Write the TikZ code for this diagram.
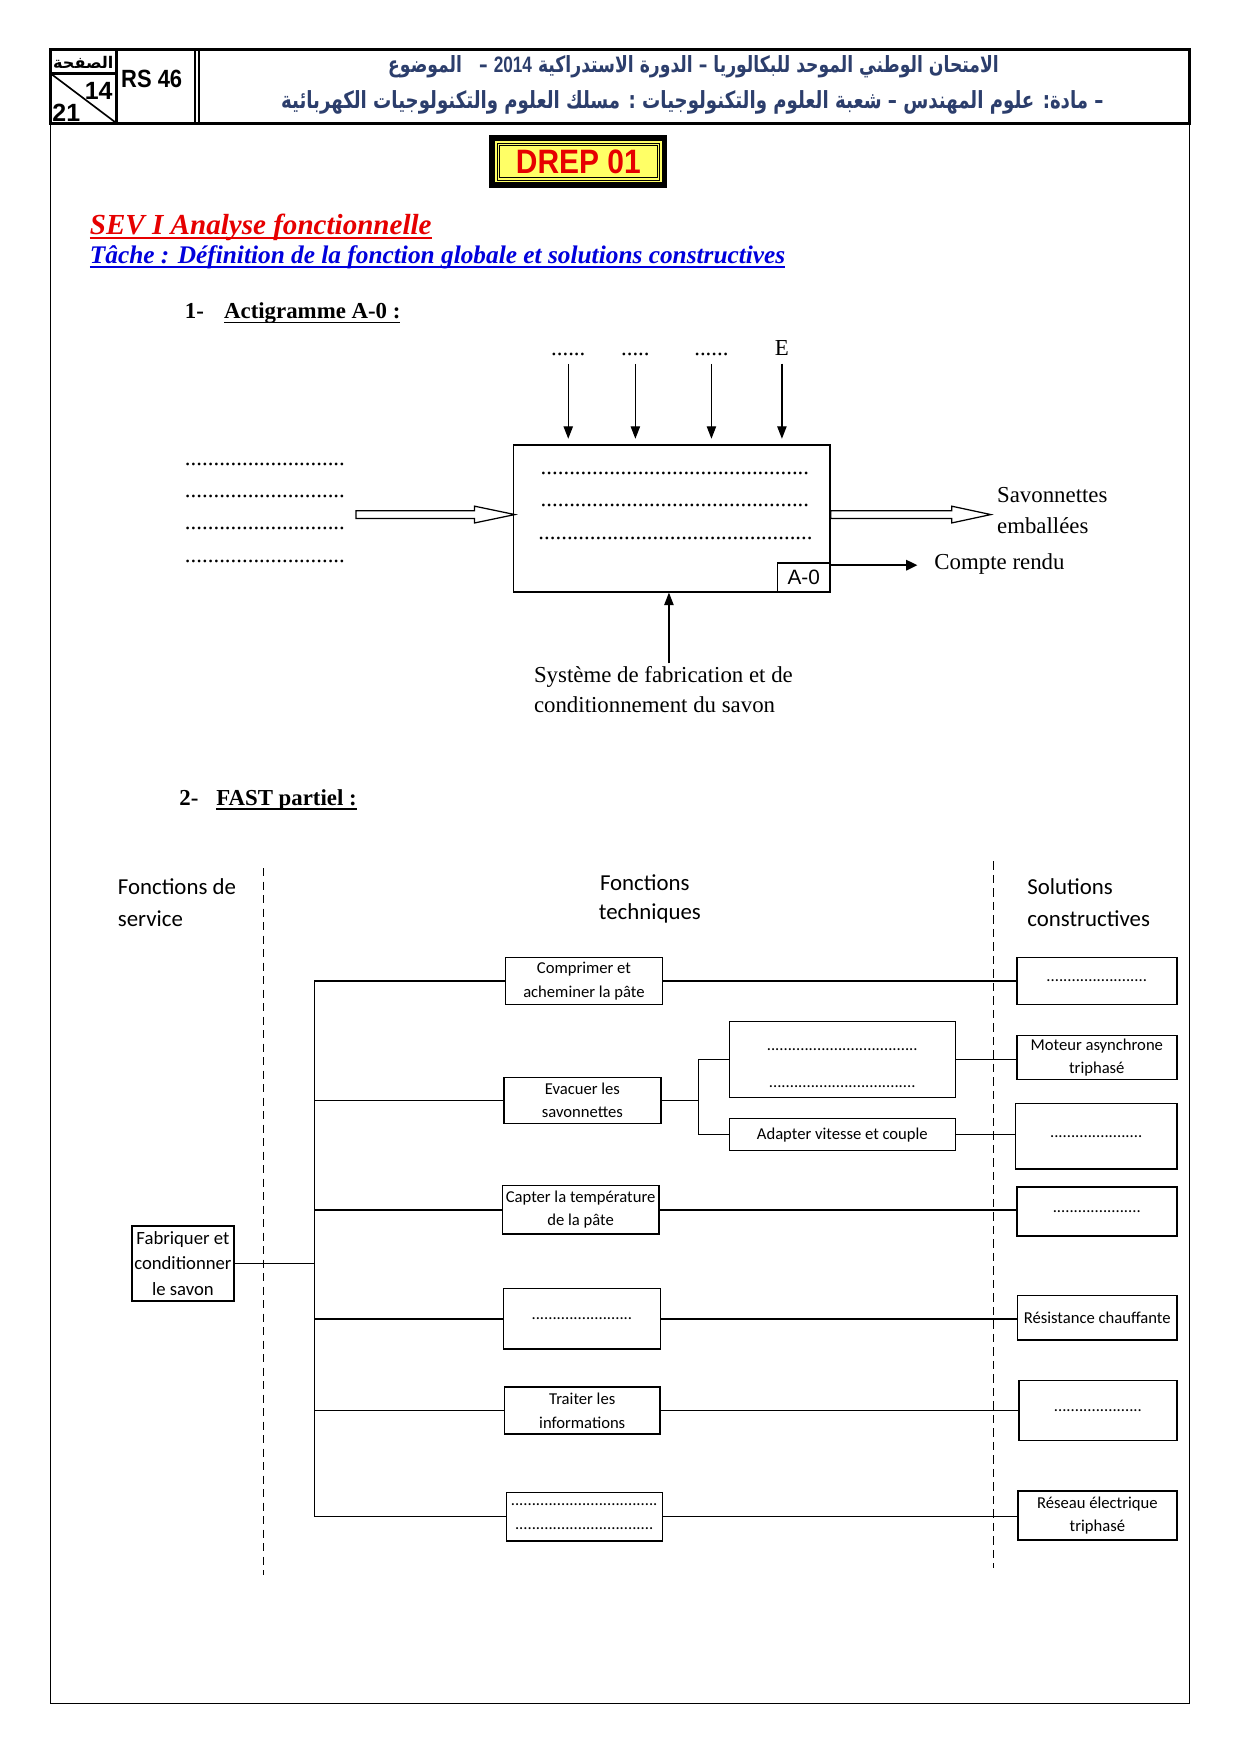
\documentclass[tikz,border=0pt]{standalone}
\usepackage{fontspec}
\setmainfont{Liberation Serif}
\setsansfont{Liberation Sans}
\newfontfamily\calib{Carlito}
\newfontfamily\arabicfont[Script=Arabic]{DejaVu Sans}
\TeXXeTstate=1
\usetikzlibrary{arrows.meta,calc}
\definecolor{arab}{RGB}{44,62,108}
\definecolor{drepyellow}{RGB}{255,255,102}
\definecolor{titred}{RGB}{230,0,0}
\definecolor{titblue}{RGB}{0,0,220}
\newcommand\mydots[1]{\ifnum#1>0 .\expandafter\mydots\expandafter{\the\numexpr#1-1\relax}\fi}
\newcommand\myul[3]{\setbox0\hbox{#3}\rlap{\rule[-#1]{\wd0}{#2}}\box0}
% box from (x1,y1) to (x2,y2): \bx[opts]{name}{x1}{y1}{x2}{y2}{text}
\newcommand\bx[7][]{\node[fbox,#1,minimum width={(#5-#3)*0.1893mm},minimum height={(#6-#4)*0.1893mm}] (#2) at ({(#3+#5)/2},{(#4+#6)/2}) {#7};}
\tikzset{
  fbox/.style={draw, line width=0.7pt, inner sep=0pt, align=center, font=\calib\fontsize{8}{11.3}\selectfont},
  serif/.style={inner sep=0pt, font=\fontsize{11}{13}\selectfont},
  toplab/.style={inner sep=3.6pt, font=\fontsize{11}{13}\selectfont},
  arr/.style={line width=0.6pt, -{Triangle[length=6pt,width=4.5pt]}},
  crarr/.style={line width=1.1pt, -{Triangle[length=5.5pt,width=5pt]}},
  hollow/.style={line width=0.6pt, fill=white},
  dashln/.style={line width=0.6pt, dash pattern=on 4pt off 2.5pt},
  head/.style={inner sep=0pt, anchor=base west, font=\calib\fontsize{11}{14}\selectfont},
  ln/.style={line width=0.7pt},
}
\begin{document}
\begin{tikzpicture}[x=0.1893mm,y=-0.1893mm]
\useasboundingbox (0,0) rectangle (1109.3,1568.9);
\fill[white] (0,0) rectangle (1109.3,1568.9);

% page frame
\draw[line width=0.5pt] (45,44) rectangle (1063.5,1523);
% header
\draw[line width=1.4pt] (45,44) rectangle (1063.5,110);
\draw[line width=1.4pt] (104,44) -- (104,110);
\draw[line width=1.1pt] (174.5,44) -- (174.5,110);
\draw[line width=1.1pt] (178,44) -- (178,110);
\draw[line width=1.2pt] (45,65.5) -- (104,65.5);
\draw[line width=0.8pt] (45,65.5) -- (104,110);
\node[inner sep=0pt] (page) at (74.5,55.5) {\resizebox{29pt}{!}{\arabicfont\bfseries\beginR الصفحة\endR}};
\node[inner sep=0pt, anchor=base east, font=\sffamily\bfseries\fontsize{12}{14}\selectfont] (p14) at (101,89) {14};
\node[inner sep=0pt, anchor=base west, font=\sffamily\bfseries\fontsize{12}{14}\selectfont] (p21) at (46.5,108.5) {21};
\node[inner sep=0pt, anchor=base west, font=\sffamily\bfseries\fontsize{12}{14}\selectfont] (rs) at (108,78) {\scalebox{0.88}[1]{RS 46}};
\node[inner sep=0pt, text=arab] (ar1) at (620,59.5) {\scalebox{1}[1.3]{\resizebox{294pt}{!}{\arabicfont\bfseries\beginR الامتحان الوطني الموحد للبكالوريا – الدورة الاستدراكية \beginL{\sffamily 2014}\endL{} –\quad الموضوع\endR}}};
\node[inner sep=0pt, text=arab] (ar2) at (619,91.5) {\scalebox{1}[1.3]{\resizebox{396pt}{!}{\arabicfont\bfseries\beginR – مادة: علوم المهندس – شعبة العلوم والتكنولوجيات : مسلك العلوم والتكنولوجيات الكهربائية\endR}}};

% DREP box
\fill[black] (437.5,121) rectangle (596.5,168);
\fill[drepyellow] (442.5,126) rectangle (591.5,163);
\draw[line width=0.4pt] (444.5,128) rectangle (589.5,161);
\draw[line width=0.4pt] (446.5,130) rectangle (587.5,159);
\node[inner sep=0pt, text=titred, font=\sffamily\bfseries\fontsize{15.5}{18}\selectfont] (drep) at (517,145) {\scalebox{0.93}[1.05]{DREP 01}};

% titles
\node[inner sep=0pt, anchor=base west, text=titred, font=\bfseries\itshape\fontsize{14}{16}\selectfont] (sev) at (80,210) {\myul{2.2pt}{1.2pt}{SEV I Analyse fonctionnelle}};
\node[inner sep=0pt, anchor=base west, text=titblue, font=\bfseries\itshape\fontsize{12.2}{14}\selectfont] (tache) at (80,236) {\myul{2pt}{1pt}{Tâche : Définition de la fonction globale et solutions constructives}};
\node[serif, anchor=base west, font=\bfseries\fontsize{11}{13}\selectfont] (s1n) at (165,285) {1-};
\node[serif, anchor=base west, font=\bfseries\fontsize{11}{13}\selectfont] (s1) at (200,285) {\myul{2.2pt}{0.8pt}{Actigramme A-0 :}};

% ---------- Actigramme ----------
\bx[line width=0.8pt]{main}{459}{398}{742}{529}{}
\bx[line width=0.8pt, font=\sffamily\fontsize{10}{12}\selectfont]{a0}{695}{503}{742}{529.5}{A-0}
\node[serif, anchor=base west] (d1) at (483,424.5) {\mydots{47}};
\node[serif, anchor=base west] (d2) at (483,453) {\mydots{47}};
\node[serif, anchor=base west] (d3) at (481,482.5) {\mydots{48}};

\node[serif, anchor=base west] (in1) at (165,416.5) {\mydots{28}};
\node[serif, anchor=base west] (in2) at (165,445) {\mydots{28}};
\node[serif, anchor=base west] (in3) at (165,473.5) {\mydots{28}};
\node[serif, anchor=base west] (in4) at (165,502.5) {\mydots{28}};

\node[toplab, anchor=base] (l1) at (508,318) {\mydots{6}};
\node[toplab, anchor=base] (l2) at (568,318) {\mydots{5}};
\node[toplab, anchor=base] (l3) at (636,318) {\mydots{6}};
\node[toplab, anchor=base] (l4) at (699,318) {E};
\foreach \n in {l1,l2,l3,l4}{
  \draw[arr, shorten >=2.7pt] (\n.south) -- (\n.south |- main.north);
}

% hollow input arrow
\coordinate (inTip) at ($(main.west)+(2,-3.5)$);
\draw[hollow] (inTip) -- ++(-36,-7.5) -- ++(0,4) -- ++(-106,0) -- ++(0,7) -- ++(106,0) -- ++(0,4) -- cycle;
% hollow output arrow
\coordinate (outS) at ($(main.east)+(0,-3.5)$);
\draw[hollow] ($(outS)+(0,-3.5)$) -- ++(108,0) -- ++(0,-4) -- ++(35,7.5) -- ++(-35,7.5) -- ++(0,-4) -- ++(-108,0) -- cycle;
\node[serif, anchor=base west] (sav1) at (891,449.5) {Savonnettes};
\node[serif, anchor=base west] (sav2) at (891,476.5) {emballées};

% compte rendu
\node[serif, anchor=base west] (cr) at (835,509) {Compte rendu};
\coordinate (crS) at ($(a0.north east)+(0,3)$);
\draw[crarr, shorten >=8pt] (crS) -- (crS -| cr.west);

% support
\node[serif, anchor=base west] (sys1) at (477,610) {Système de fabrication et de};
\node[serif, anchor=base west] (sys2) at (477,637) {conditionnement du savon};
\coordinate (sysT) at (598,593);
\draw[arr] (sysT) -- (sysT |- main.south);

% ---------- FAST ----------
\node[serif, anchor=base west, font=\bfseries\fontsize{11}{13}\selectfont] (s2n) at (160,720) {2-};
\node[serif, anchor=base west, font=\bfseries\fontsize{11}{13}\selectfont] (s2) at (193,720) {\myul{2.2pt}{0.8pt}{FAST partiel :}};

\node[head] (h1a) at (105,800) {Fonctions de};
\node[head] (h1b) at (105,828.5) {service};
\node[head] (h2a) at (536,796) {Fonctions};
\node[head] (h2b) at (535,822) {techniques};
\node[head] (h3a) at (918,800) {Solutions};
\node[head] (h3b) at (918,828.5) {constructives};

\draw[dashln] (235.4,776) -- (235.4,1408);
\draw[dashln] (888,770) -- (888,1402);

\bx[font=\calib\fontsize{9}{12.4}\selectfont]{FS}{118}{1096}{209}{1163}{Fabriquer et\\conditionner\\le savon}

\bx{FT1}{452}{856}{592}{898}{Comprimer et\\acheminer la pâte}
\bx{FT2}{450.5}{963}{590.8}{1004.5}{Evacuer les\\savonnettes}
\bx{FT21}{652}{913}{854}{981}{}
\node[fbox, draw=none, font=\calib\fontsize{8}{17.5}\selectfont] (FT21t) at ($(FT21.center)+(0,8)$) {\mydots{36}\\\mydots{35}};
\bx{FT22}{652}{1000}{854}{1028.6}{Adapter vitesse et couple}
\bx{FT3}{449}{1060}{589}{1103}{Capter la température\\de la pâte}
\bx{FT4}{450}{1152}{590.4}{1206}{\mydots{24}}
\bx{FT5}{451}{1240}{590}{1282}{Traiter les\\informations}
\bx[font=\calib\fontsize{8}{12}\selectfont]{FT6}{452.6}{1334}{592}{1377.5}{\mydots{35}\\\mydots{33}}

\bx{SC1}{909}{856}{1052}{898}{\mydots{24}}
\bx{SC2}{909}{925.6}{1052}{965}{Moteur asynchrone\\triphasé}
\bx{SC3}{908}{986.7}{1052}{1045}{\mydots{22}}
\bx{SC4}{909}{1061}{1052}{1105}{\mydots{21}}
\bx{SC5}{909.7}{1158}{1052}{1198}{Résistance chauffante}
\bx{SC6}{911}{1234}{1052}{1287.5}{\mydots{21}}
\bx{SC7}{910}{1333}{1052}{1376.6}{Réseau électrique\\triphasé}

% connectors
\coordinate (T) at (281,0);
\coordinate (J) at (624.5,0);
\draw[ln] (FS.east) -- (FS.east -| T);
\draw[ln] (FT1.west -| T) -- (FT6.west -| T);
\foreach \b in {FT1,FT2,FT3,FT4,FT5,FT6}{
  \draw[ln] (\b.west -| T) -- (\b.west);
}
\draw[ln] (FT2.east) -- (FT2.east -| J);
\draw[ln] (FT21.west -| J) -- (FT22.west -| J);
\draw[ln] (FT21.west -| J) -- (FT21.west);
\draw[ln] (FT22.west -| J) -- (FT22.west);

\draw[ln] (FT1.east) -- (FT1.east -| SC1.west);
\draw[ln] (FT21.east) -- (FT21.east -| SC2.west);
\draw[ln] (FT22.east) -- (FT22.east -| SC3.west);
\draw[ln] (FT3.east) -- (FT3.east -| SC4.west);
\draw[ln] (FT4.east) -- (FT4.east -| SC5.west);
\draw[ln] (FT5.east) -- (FT5.east -| SC6.west);
\draw[ln] (FT6.east) -- (FT6.east -| SC7.west);
\end{tikzpicture}
\end{document}
